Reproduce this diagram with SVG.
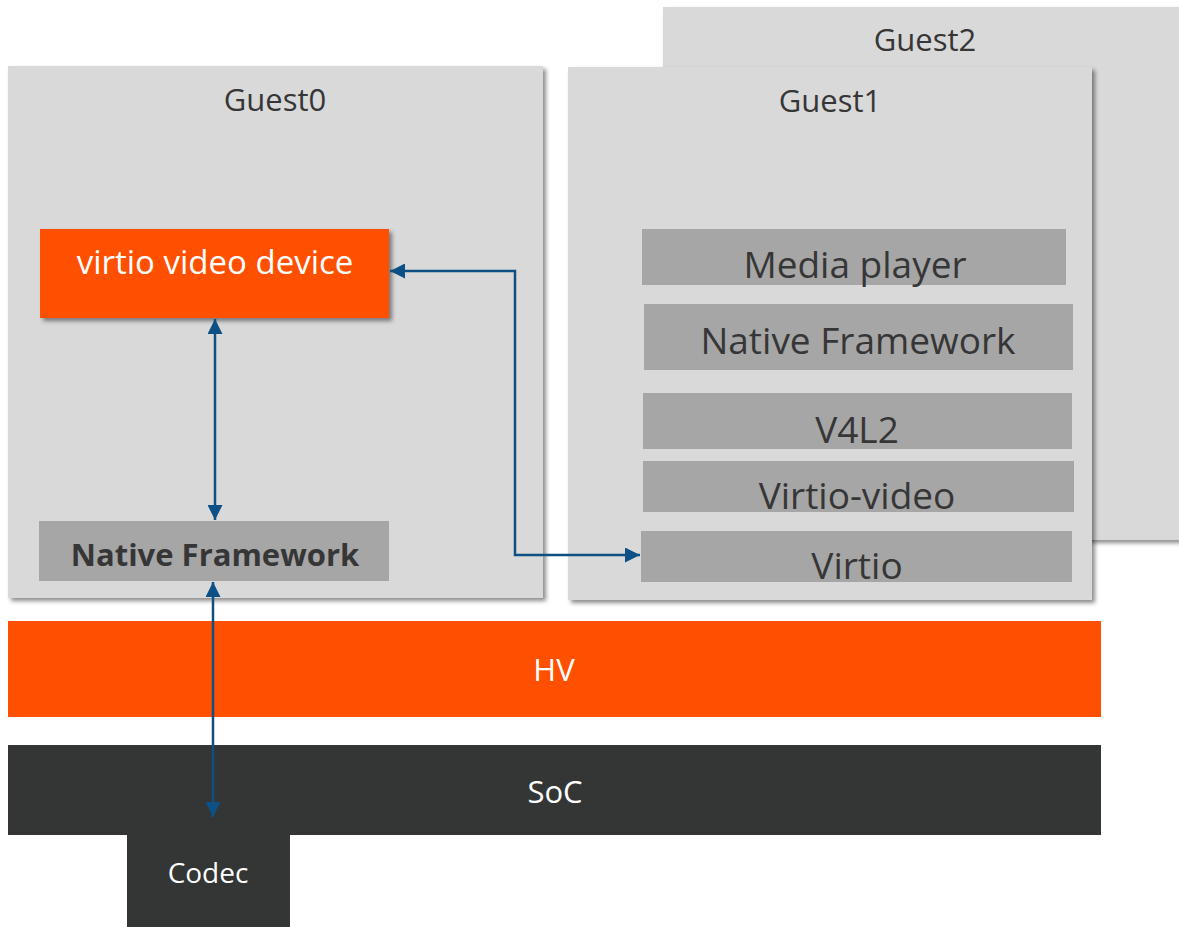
<svg xmlns="http://www.w3.org/2000/svg" width="1179" height="927" viewBox="0 0 1179 927">
<defs>
<filter id="sh" x="-5%" y="-5%" width="115%" height="115%">
<feDropShadow dx="3" dy="3" stdDeviation="2" flood-color="#000" flood-opacity="0.45"/>
</filter>
<marker id="ah" viewBox="0 0 10 10" refX="10" refY="5" markerWidth="15" markerHeight="15" markerUnits="userSpaceOnUse" orient="auto-start-reverse">
<path d="M0,0 L10,5 L0,10 z" fill="#0d5085"/>
</marker>
<style>
text{font-family:"Open Sans","Liberation Sans",sans-serif;text-anchor:middle}
.guest{fill:#d9d9d9}
.glabel{font-size:31px;fill:#363636}
.layer{fill:#a6a6a6}
.ltxt{font-size:37px;fill:#363636}
.wtxt{fill:#ffffff}
.conn{fill:none;stroke:#0d5085;stroke-width:2.5;marker-start:url(#ah);marker-end:url(#ah)}
</style>
</defs>
<g id="guest2"><rect class="guest" x="663" y="7" width="530" height="533" filter="url(#sh)"/><text class="glabel" x="925" y="51">Guest2</text></g>
<g id="guest0"><rect class="guest" x="8" y="66" width="535" height="532" filter="url(#sh)"/><text class="glabel" x="275" y="111">Guest0</text></g>
<g id="guest1"><rect class="guest" x="568" y="67" width="524" height="533" filter="url(#sh)"/><text class="glabel" x="830" y="112">Guest1</text></g>
<g id="virtio-video-device"><rect x="40" y="229" width="349" height="89" fill="#ff4f00" filter="url(#sh)"/><text class="wtxt" x="215" y="274" font-size="33">virtio video device</text></g>
<g id="native-framework-g0"><rect class="layer" x="39" y="521" width="350" height="60"/><text x="215" y="566" font-size="31" font-weight="bold" fill="#363636">Native Framework</text></g>
<g id="media-player"><rect class="layer" x="642" y="229" width="424" height="56"/><text class="ltxt" x="855" y="278">Media player</text></g>
<g id="native-framework-g1"><rect class="layer" x="644" y="304" width="429" height="66"/><text class="ltxt" x="858" y="354">Native Framework</text></g>
<g id="v4l2"><rect class="layer" x="643" y="393" width="429" height="56"/><text class="ltxt" x="857" y="443">V4L2</text></g>
<g id="virtio-video"><rect class="layer" x="643" y="461" width="431" height="51"/><text class="ltxt" x="857" y="509">Virtio-video</text></g>
<g id="virtio"><rect class="layer" x="641" y="531" width="431" height="51"/><text class="ltxt" x="857" y="579">Virtio</text></g>
<g id="hv"><rect x="8" y="621" width="1093" height="96" fill="#ff4f00"/><text class="wtxt" x="554" y="681" font-size="31">HV</text></g>
<g id="soc"><rect x="8" y="745" width="1093" height="90" fill="#343535"/><text class="wtxt" x="555" y="803" font-size="31">SoC</text></g>
<g id="codec"><rect x="127" y="834" width="163" height="93" fill="#343535"/><text class="wtxt" x="208" y="883" font-size="28">Codec</text></g>
<g id="connectors">
<path class="conn" d="M215,319 L215,520"/>
<path class="conn" d="M390,271 L515,271 L515,555 L640,555"/>
<path class="conn" d="M213,582 L213,817"/>
</g>
</svg>
